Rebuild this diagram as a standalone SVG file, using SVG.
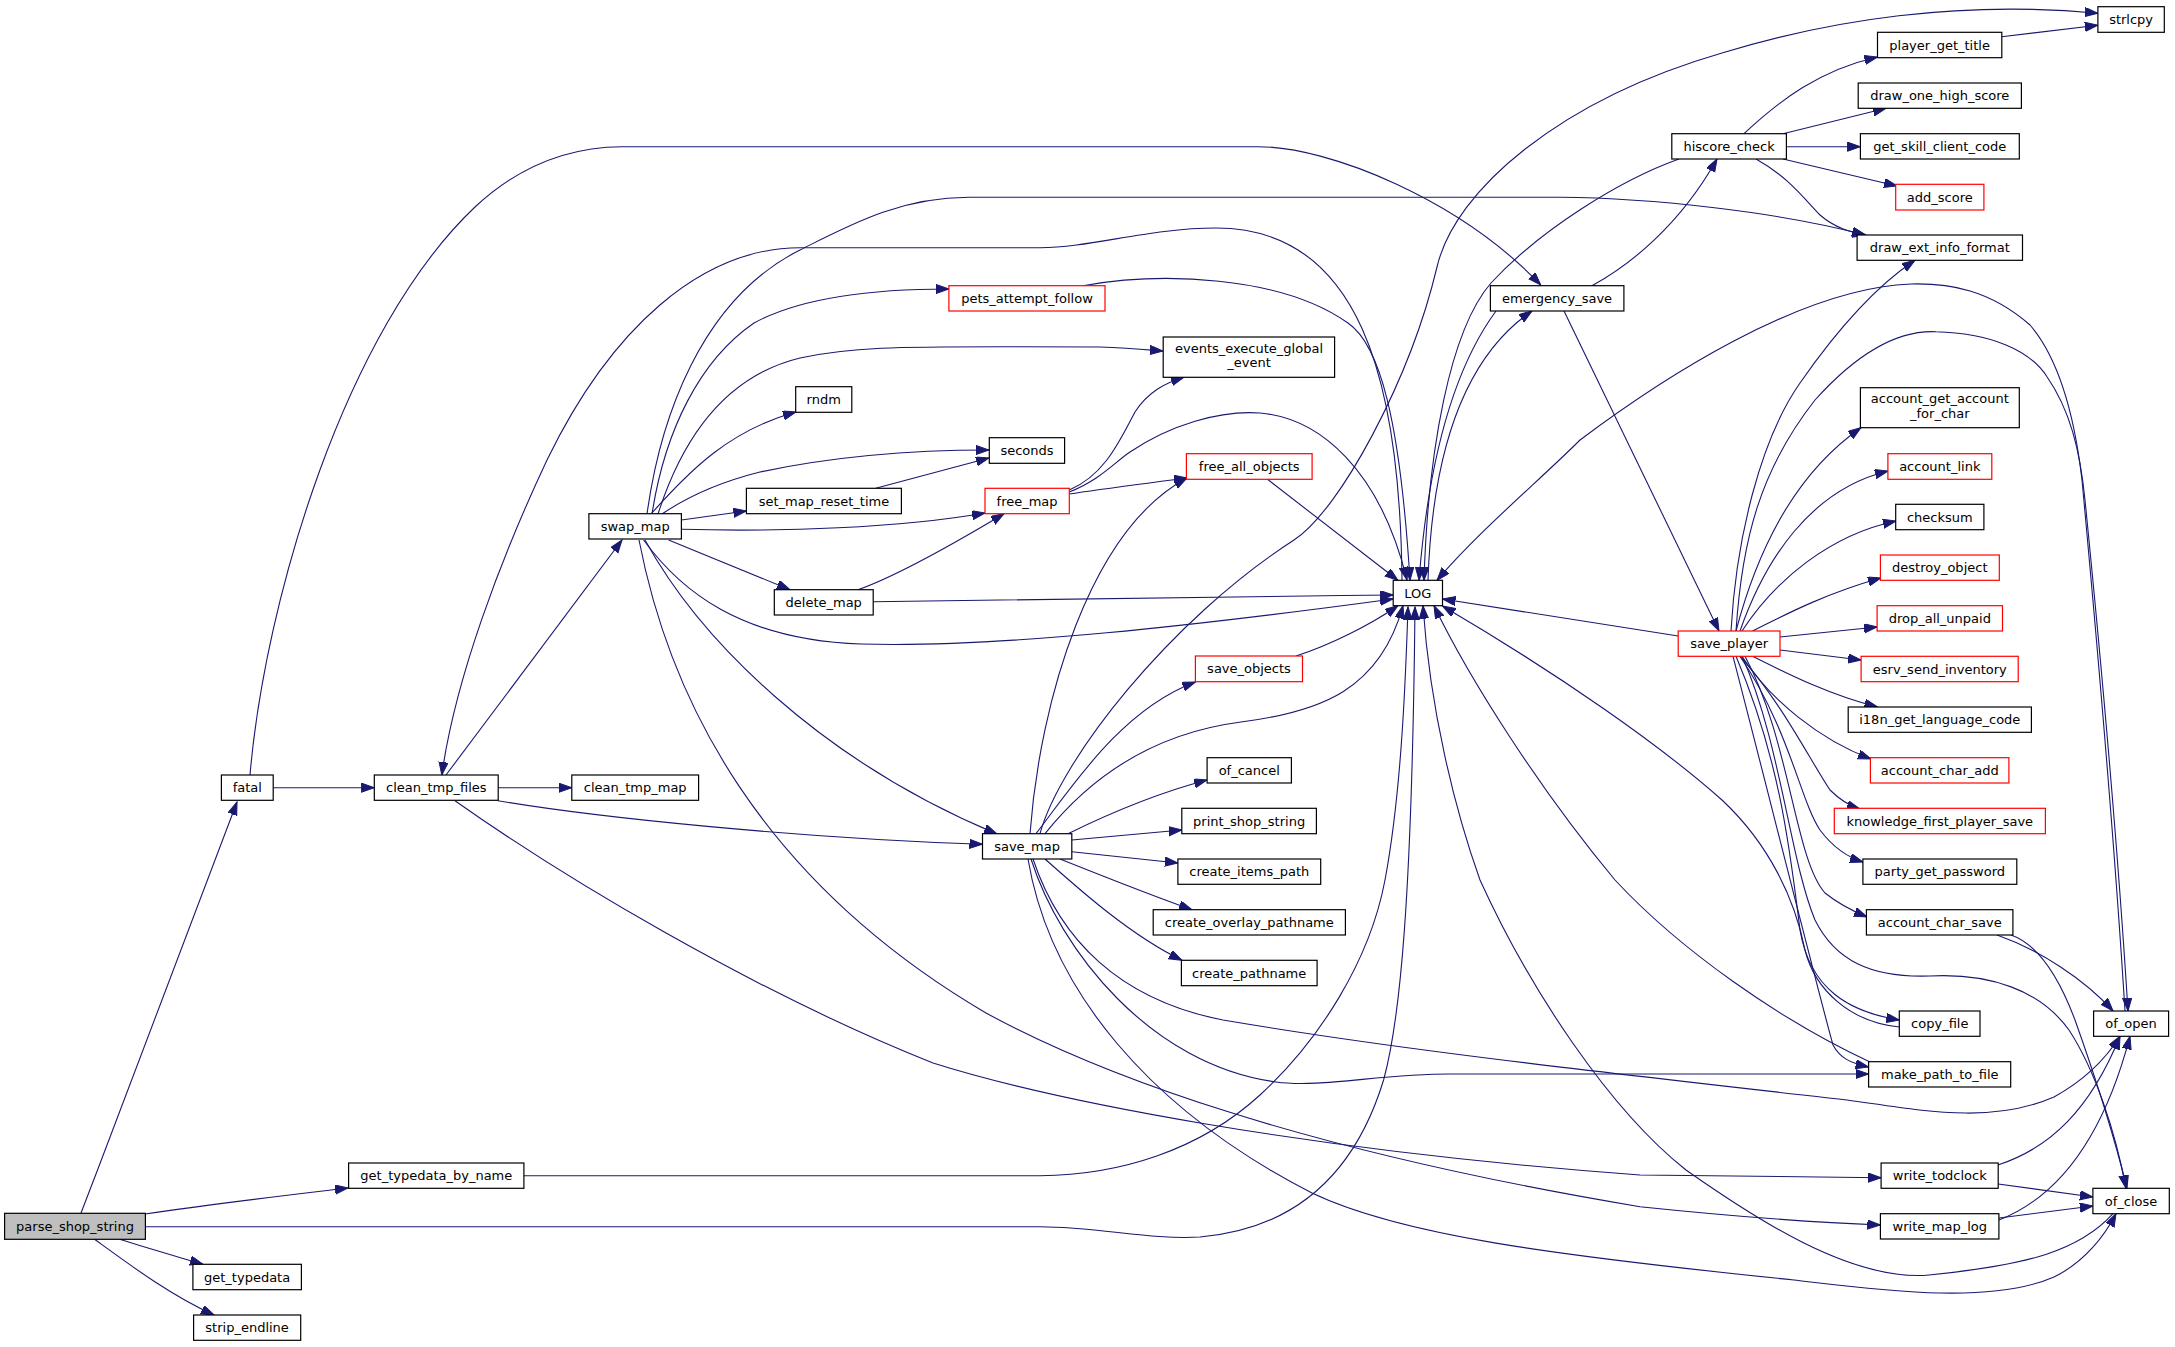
<svg xmlns="http://www.w3.org/2000/svg" width="2175" height="1347" viewBox="0 0 2175 1347">
<style>
.n rect{fill:#ffffff;stroke:#000000;stroke-width:1.2}
.r rect{fill:#ffffff;stroke:#ff0000;stroke-width:1.2}
.g rect{fill:#bfbfbf;stroke:#000000;stroke-width:1.2}
text{font-family:"DejaVu Sans","Liberation Sans",sans-serif;font-size:13px;fill:#000000;text-anchor:middle}
.e path{fill:none;stroke:#191970;stroke-width:1.1;marker-end:url(#a)}
</style>
<defs>
<marker id="a" markerWidth="14" markerHeight="10" refX="13" refY="4.6" orient="auto" markerUnits="userSpaceOnUse">
<path d="M0,0 L13,4.6 L0,9.2 z" fill="#191970" stroke="#191970" stroke-width="1"/>
</marker>
</defs>
<rect x="0" y="0" width="2175" height="1347" fill="#ffffff"/>
<g id="edges" class="e">
<path d="M81,1213 C140,1060 200,900 237,802"/>
<path d="M145,1214 C220,1203 290,1195 348,1188"/>
<path d="M145,1226.7 L1040,1226.7 C1100,1227 1150,1240 1200,1237 C1280,1230 1350,1190 1383.6,1080 C1400,1020 1412,900 1415,607"/>
<path d="M119.6,1239.3 C150,1249 175,1256 203,1264.3"/>
<path d="M94.6,1239.3 C130,1265 170,1295 214,1315"/>
<path d="M523.9,1175.7 L1040,1175.7 C1120,1175 1200,1150 1260,1095 C1320,1040 1370,960 1385,880 C1400,800 1405,700 1408,607"/>
<path d="M273.2,787.7 L374.3,787.7"/>
<path d="M250,775 C265,600 345,330 475,207 C520,165 570,147 622,146.7 L1258,146.7 C1330,146.7 1460,200 1540.7,285"/>
<path d="M446,775 L622,540"/>
<path d="M498.2,787.7 L571.8,787.7"/>
<path d="M498,800.7 C600,818 800,838 982.5,844.3"/>
<path d="M455,800.7 C560,875 750,990 933,1063 C1050,1100 1300,1150 1640,1175 L1881,1177.7"/>
<path d="M1402,580 C1400,380 1360,228 1216,228 C1150,228 1090,247.7 1040,247.7 L800,247.7 C700,248 610,330 547,460 C500,560 455,680 441.8,775"/>
<path d="M647,514 C660,420 700,300 800,250 C850,225 900,197.3 968.6,197.3 L1560,197.3 C1650,198 1780,212 1865,235"/>
<path d="M652,514 C665,430 700,360 754,323 C800,298 870,289 949,289"/>
<path d="M658,514 C685,430 730,375 800,358 C850,347 900,346.7 1000,346.7 L1100,347 C1130,348 1150,350 1163,351"/>
<path d="M651,514 C690,470 730,430 796,412"/>
<path d="M662,514 C690,495 720,482 760,472 C840,455 920,450 989,450"/>
<path d="M681.4,520 L746.4,511"/>
<path d="M681.4,529.3 C780,532 900,528 985,513"/>
<path d="M668.6,540 L790,589.7"/>
<path d="M643.6,540 C680,590 740,640 861,644 C1000,648 1200,625 1393,599"/>
<path d="M645,540 C700,640 820,760 997,834"/>
<path d="M639,540 C670,700 760,880 986,1013 C1100,1075 1300,1150 1640,1206.7 C1720,1215 1800,1222 1880.4,1225"/>
<path d="M875.7,488.3 L989,458"/>
<path d="M857.9,589.7 C900,575 960,540 1004,513.7"/>
<path d="M873.2,601.7 C1000,600 1200,597 1393,595"/>
<path d="M1069.3,494 C1100,489 1150,483 1187,478"/>
<path d="M1069.3,490 C1105,475 1120,440 1135,412 C1148,392 1165,383 1184,377.3"/>
<path d="M1069.3,492 C1100,480 1115,462 1130,452 C1170,425 1220,410 1260,413 C1320,418 1380,470 1407,580"/>
<path d="M1267.5,479.3 L1397.9,580.3"/>
<path d="M1083,285.7 C1160,272 1280,275 1348,323 C1380,345 1400,420 1410,580.3"/>
<path d="M1296,656 C1330,645 1370,625 1398,605.7"/>
<path d="M1496,311 C1460,360 1430,440 1419,580.3"/>
<path d="M1428,580.3 C1432,460 1460,360 1532,311"/>
<path d="M1679,159 C1620,180 1540,230 1491,283 C1450,330 1428,450 1424,580.3"/>
<path d="M1592,285.7 C1630,265 1680,225 1717,159"/>
<path d="M1564,311 L1719,631"/>
<path d="M1040,833.7 C1060,760 1170,620 1294,540 C1340,510 1410,380 1437,267 C1455,190 1560,100 1722,53 C1830,20 1960,0 2097.9,13.3"/>
<path d="M1030,833.7 C1040,700 1090,530 1187,478"/>
<path d="M1036,833.7 C1070,790 1120,710 1195.4,682"/>
<path d="M1045,833.7 C1080,790 1140,735 1241,722 C1320,712 1380,690 1403,605.7"/>
<path d="M1068,833.7 C1100,818 1150,795 1207.1,780"/>
<path d="M1071.8,840 L1181.8,830"/>
<path d="M1071.8,851.7 L1177.9,863"/>
<path d="M1060,859 C1100,875 1150,895 1192,909.7"/>
<path d="M1045,859 C1080,890 1130,935 1182,960.3"/>
<path d="M1031,859 C1060,950 1150,1065 1276,1082 C1320,1088 1380,1074 1450,1074 L1868.6,1074"/>
<path d="M1033,859 C1060,940 1120,1000 1223,1020 C1400,1050 1600,1072 1847,1100 C1920,1110 1990,1125 2054,1097 C2085,1080 2105,1060 2120,1036.3"/>
<path d="M1028,859 C1050,990 1150,1110 1312,1193 C1400,1235 1550,1255 1794,1280 C1880,1290 1990,1305 2054,1277 C2085,1262 2105,1235 2116,1213.7"/>
<path d="M1678.2,636 L1442.5,599"/>
<path d="M1736,631 C1760,540 1800,470 1861,427.7"/>
<path d="M1740,631 C1765,560 1810,490 1888,471"/>
<path d="M1742,631 C1775,580 1830,535 1896,521"/>
<path d="M1752.5,631 C1790,612 1830,592 1881,578"/>
<path d="M1780,637 L1877.1,627"/>
<path d="M1780,650 L1861.1,660"/>
<path d="M1752.5,656.3 C1790,675 1830,695 1877.5,707"/>
<path d="M1742,656.3 C1770,700 1820,740 1871,759"/>
<path d="M1740,656.3 C1780,700 1810,760 1830,790 C1840,800 1850,806 1860,809"/>
<path d="M1740,656.3 C1790,730 1800,800 1820,830 C1835,850 1850,858 1863,862"/>
<path d="M1745,656.3 C1790,740 1795,860 1825,893 C1840,905 1855,912 1867,917"/>
<path d="M1736,656.3 C1780,760 1790,850 1800,930 C1810,990 1850,1012 1899.3,1020"/>
<path d="M1899.3,1027 C1850,1022 1815,990 1805,950 C1795,900 1770,845 1722,800 C1660,745 1560,675 1442.5,606"/>
<path d="M1733,656.3 C1760,760 1815,980 1833,1045 C1840,1058 1850,1063 1868.6,1067"/>
<path d="M1870,1062 C1780,1020 1680,950 1615,880 C1540,790 1470,680 1434,605.7"/>
<path d="M2113,1213.7 C2080,1250 2030,1265 1929,1275 C1850,1282 1750,1215 1686,1170 C1610,1110 1530,990 1480,880 C1455,810 1430,710 1423,605.7"/>
<path d="M1742,656.3 C1780,740 1790,860 1815,920 C1835,960 1870,978 1930,976 C1990,973 2040,990 2069,1030 C2095,1070 2115,1130 2126,1188.3"/>
<path d="M1736,631 C1742,540 1760,470 1815,400 C1860,350 1900,330 1936,331.7 C1990,333 2030,350 2047,376.7 C2070,410 2080,450 2085,500 C2100,650 2118,850 2128,1011"/>
<path d="M2125,1011 C2115,850 2095,620 2082,480 C2075,420 2060,360 2030,325 C1990,290 1950,283 1911,284 C1800,288 1660,380 1580,440 C1540,480 1480,530 1437,580.3"/>
<path d="M1731,631 C1736,540 1760,440 1800,383 C1830,340 1870,290 1915,260.3"/>
<path d="M1997,935 C2040,950 2085,980 2113,1011"/>
<path d="M2011,935 C2040,945 2060,980 2075,1020 C2100,1090 2115,1140 2127,1188.3"/>
<path d="M1998,1165 C2050,1148 2090,1110 2120,1036.3"/>
<path d="M1998.2,1184 L2092.9,1197"/>
<path d="M1999,1220 C2050,1200 2100,1150 2130,1036.3"/>
<path d="M1998.9,1218 L2092.9,1206"/>
<path d="M1744,133.7 C1780,100 1820,70 1877.5,57"/>
<path d="M1783,133.7 L1886,108.3"/>
<path d="M1786.4,146.7 L1860.4,146.7"/>
<path d="M1783,159 L1897,186"/>
<path d="M1756,159 C1790,178 1805,200 1820,215 C1835,228 1850,232 1866,235"/>
<path d="M2001.8,36.7 L2097.9,25.3"/>
</g>
<g id="parse_shop_string" class="g"><rect x="4.6" y="1213.3" width="140.8" height="26"/><text x="75" y="1230.8">parse_shop_string</text></g>
<g id="fatal" class="n"><rect x="221.4" y="775" width="51.8" height="25.3"/><text x="247.3" y="792.2">fatal</text></g>
<g id="clean_tmp_files" class="n"><rect x="374.3" y="775" width="123.9" height="25.3"/><text x="436.3" y="792.2">clean_tmp_files</text></g>
<g id="get_typedata_by_name" class="n"><rect x="348.6" y="1163" width="175.3" height="25.3"/><text x="436.3" y="1180.2">get_typedata_by_name</text></g>
<g id="get_typedata" class="n"><rect x="192.9" y="1264.3" width="108.5" height="25.4"/><text x="247.1" y="1281.5">get_typedata</text></g>
<g id="strip_endline" class="n"><rect x="193.6" y="1315" width="107.1" height="25.3"/><text x="247.1" y="1332.2">strip_endline</text></g>
<g id="swap_map" class="n"><rect x="588.9" y="513.7" width="92.5" height="25.3"/><text x="635.2" y="530.9">swap_map</text></g>
<g id="clean_tmp_map" class="n"><rect x="571.8" y="775" width="126.8" height="25.3"/><text x="635.2" y="792.2">clean_tmp_map</text></g>
<g id="save_map" class="n"><rect x="982.5" y="833.7" width="89.3" height="25.3"/><text x="1027.1" y="850.9">save_map</text></g>
<g id="delete_map" class="n"><rect x="774.3" y="589.7" width="98.9" height="25.3"/><text x="823.7" y="606.9">delete_map</text></g>
<g id="set_map_reset_time" class="n"><rect x="746.4" y="488.3" width="155" height="25.4"/><text x="823.9" y="505.5">set_map_reset_time</text></g>
<g id="rndm" class="n"><rect x="795.7" y="386.7" width="56.1" height="25.6"/><text x="823.7" y="404">rndm</text></g>
<g id="pets_attempt_follow" class="r"><rect x="948.9" y="285.7" width="156.1" height="25.3"/><text x="1027" y="302.9">pets_attempt_follow</text></g>
<g id="seconds" class="n"><rect x="989.3" y="437.7" width="75.3" height="25.6"/><text x="1027" y="455">seconds</text></g>
<g id="free_map" class="r"><rect x="985" y="488.3" width="84.3" height="25.4"/><text x="1027.1" y="505.5">free_map</text></g>
<g id="events_execute_global_event" class="n"><rect x="1163.2" y="337" width="171.4" height="40.3"/><text x="1249" y="352.6">events_execute_global</text><text x="1249" y="367.3">_event</text></g>
<g id="free_all_objects" class="r"><rect x="1186.4" y="453.7" width="125.7" height="25.6"/><text x="1249.2" y="471">free_all_objects</text></g>
<g id="save_objects" class="r"><rect x="1195.4" y="656" width="107.1" height="25.7"/><text x="1249" y="673.4">save_objects</text></g>
<g id="of_cancel" class="n"><rect x="1207.1" y="757.7" width="84.3" height="25.3"/><text x="1249.2" y="774.9">of_cancel</text></g>
<g id="print_shop_string" class="n"><rect x="1181.8" y="808.3" width="134.6" height="25.4"/><text x="1249.1" y="825.5">print_shop_string</text></g>
<g id="create_items_path" class="n"><rect x="1177.9" y="859" width="142.8" height="25.3"/><text x="1249.3" y="876.2">create_items_path</text></g>
<g id="create_overlay_pathname" class="n"><rect x="1153.2" y="909.7" width="192.2" height="25.3"/><text x="1249.3" y="926.9">create_overlay_pathname</text></g>
<g id="create_pathname" class="n"><rect x="1181.4" y="960.3" width="135.7" height="25.4"/><text x="1249.2" y="977.5">create_pathname</text></g>
<g id="LOG" class="n"><rect x="1393.2" y="580.3" width="49.3" height="25.4"/><text x="1417.8" y="597.5">LOG</text></g>
<g id="emergency_save" class="n"><rect x="1490.4" y="285.7" width="133.5" height="25.3"/><text x="1557.1" y="302.9">emergency_save</text></g>
<g id="hiscore_check" class="n"><rect x="1671.8" y="133.7" width="114.6" height="25.3"/><text x="1729.1" y="150.9">hiscore_check</text></g>
<g id="save_player" class="r"><rect x="1678.2" y="631" width="101.8" height="25.3"/><text x="1729.1" y="648.2">save_player</text></g>
<g id="strlcpy" class="n"><rect x="2097.9" y="6.7" width="66.4" height="25.6"/><text x="2131.1" y="24">strlcpy</text></g>
<g id="player_get_title" class="n"><rect x="1877.5" y="32.3" width="124.3" height="25.4"/><text x="1939.6" y="49.5">player_get_title</text></g>
<g id="draw_one_high_score" class="n"><rect x="1858.2" y="83" width="163.2" height="25.3"/><text x="1939.8" y="100.2">draw_one_high_score</text></g>
<g id="get_skill_client_code" class="n"><rect x="1860.4" y="133.7" width="158.9" height="25.3"/><text x="1939.8" y="150.9">get_skill_client_code</text></g>
<g id="add_score" class="r"><rect x="1895.7" y="184.3" width="88.2" height="25.7"/><text x="1939.8" y="201.7">add_score</text></g>
<g id="draw_ext_info_format" class="n"><rect x="1857.1" y="235" width="165.4" height="25.3"/><text x="1939.8" y="252.2">draw_ext_info_format</text></g>
<g id="account_get_account_for_char" class="n"><rect x="1860.4" y="387.7" width="158.9" height="40"/><text x="1939.8" y="403.3">account_get_account</text><text x="1939.8" y="418">_for_char</text></g>
<g id="account_link" class="r"><rect x="1887.9" y="453.7" width="103.9" height="25.6"/><text x="1939.8" y="471">account_link</text></g>
<g id="checksum" class="n"><rect x="1895.7" y="504.3" width="88.2" height="25.4"/><text x="1939.8" y="521.5">checksum</text></g>
<g id="destroy_object" class="r"><rect x="1880.4" y="555" width="118.9" height="25.3"/><text x="1939.8" y="572.2">destroy_object</text></g>
<g id="drop_all_unpaid" class="r"><rect x="1877.1" y="605.7" width="125.4" height="25.3"/><text x="1939.8" y="622.9">drop_all_unpaid</text></g>
<g id="esrv_send_inventory" class="r"><rect x="1861.1" y="656.3" width="157.1" height="25.4"/><text x="1939.8" y="673.5">esrv_send_inventory</text></g>
<g id="i18n_get_language_code" class="n"><rect x="1848.2" y="707" width="183.2" height="25.3"/><text x="1939.8" y="724.2">i18n_get_language_code</text></g>
<g id="account_char_add" class="r"><rect x="1870.4" y="757.7" width="138.5" height="25.3"/><text x="1939.8" y="774.9">account_char_add</text></g>
<g id="knowledge_first_player_save" class="r"><rect x="1834.3" y="808.3" width="211.1" height="25.4"/><text x="1939.8" y="825.5">knowledge_first_player_save</text></g>
<g id="party_get_password" class="n"><rect x="1862.9" y="859" width="153.9" height="25.3"/><text x="1939.8" y="876.2">party_get_password</text></g>
<g id="account_char_save" class="n"><rect x="1866.4" y="909.7" width="146.5" height="25.3"/><text x="1939.8" y="926.9">account_char_save</text></g>
<g id="copy_file" class="n"><rect x="1899.3" y="1011" width="80.7" height="25.3"/><text x="1939.8" y="1028.2">copy_file</text></g>
<g id="make_path_to_file" class="n"><rect x="1868.6" y="1061.7" width="142.1" height="25.3"/><text x="1939.8" y="1078.9">make_path_to_file</text></g>
<g id="write_todclock" class="n"><rect x="1881.1" y="1163" width="117.1" height="25.3"/><text x="1939.8" y="1180.2">write_todclock</text></g>
<g id="write_map_log" class="n"><rect x="1880.4" y="1213.7" width="118.5" height="25.3"/><text x="1939.8" y="1230.9">write_map_log</text></g>
<g id="of_open" class="n"><rect x="2093.6" y="1011" width="75" height="25.3"/><text x="2131.1" y="1028.2">of_open</text></g>
<g id="of_close" class="n"><rect x="2092.9" y="1188.3" width="76.4" height="25.4"/><text x="2131.1" y="1205.5">of_close</text></g>
</svg>
